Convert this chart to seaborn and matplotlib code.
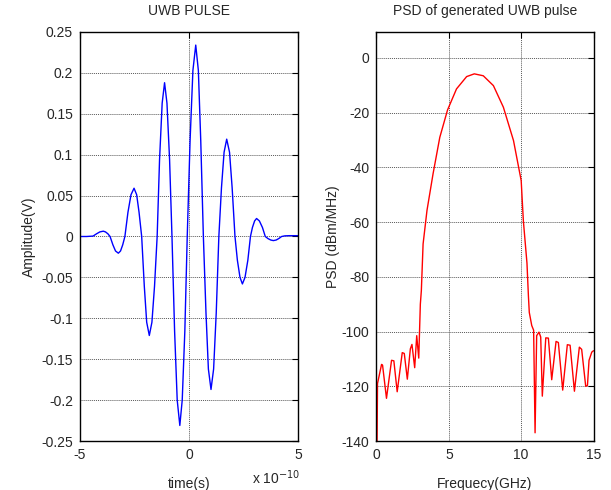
import numpy as np
import pandas as pd
import seaborn as sns
import matplotlib
matplotlib.use("Agg")
import matplotlib.pyplot as plt
from matplotlib.ticker import FuncFormatter

# =========================
# data
# =========================

# UWB pulse: time in units of 1e-10 s, amplitude in V
pulse_t = [-5.0, -4.7, -4.4, -4.24, -4.09, -3.93, -3.83, -3.72, -3.62,
           -3.49, -3.37, -3.24, -3.14, -3.04, -2.94,
           -2.80, -2.66, -2.52, -2.40, -2.29, -2.17,
           -2.05, -1.94, -1.82, -1.70, -1.58, -1.46,
           -1.35, -1.23, -1.12, -1.01, -0.89, -0.78,
           -0.66, -0.54, -0.42, -0.31, -0.19, -0.08,
           0.05, 0.18, 0.31, 0.43, 0.54, 0.66,
           0.78, 0.89, 1.01, 1.13, 1.25, 1.37,
           1.49, 1.61, 1.73, 1.86, 1.98, 2.11,
           2.22, 2.34, 2.45, 2.57, 2.70, 2.82,
           2.91, 3.01, 3.10, 3.23, 3.37, 3.50,
           3.62, 3.75, 3.87, 4.00, 4.12, 4.25,
           4.40, 4.60, 5.0]
pulse_v = [0.0, 0.0, 0.0005, 0.0033, 0.0056, 0.0065, 0.0056, 0.0033, 0.0,
           -0.0102, -0.0177, -0.0204, -0.0177, -0.0102, 0.0,
           0.0295, 0.0511, 0.059, 0.0511, 0.0295, 0.0,
           -0.0605, -0.1048, -0.121, -0.1048, -0.0605, 0.0,
           0.094, 0.163, 0.188, 0.163, 0.094, 0.0,
           -0.1155, -0.200, -0.231, -0.200, -0.1155, 0.0,
           0.117, 0.203, 0.234, 0.203, 0.117, 0.0,
           -0.0935, -0.162, -0.187, -0.162, -0.0935, 0.0,
           0.0595, 0.103, 0.119, 0.103, 0.0595, 0.0,
           -0.029, -0.050, -0.058, -0.050, -0.029, 0.0,
           0.011, 0.019, 0.022, 0.019, 0.011, 0.0,
           -0.0025, -0.0043, -0.005, -0.0043, -0.0025, 0.0,
           0.0008, 0.001, 0.001]

# PSD: frequency in GHz, level in dBm/MHz
psd_f = [0.04, 0.07, 0.35, 0.42, 0.69, 1.04, 1.20, 1.43, 1.78, 1.92, 2.13,
         2.34, 2.45, 2.64, 2.78, 2.92, 2.99, 3.03, 3.10, 3.22, 3.49, 3.91,
         4.375, 4.91, 5.53, 6.23, 6.76, 7.38, 8.08, 8.77, 9.47, 10.0, 10.15,
         10.4, 10.5, 10.56, 10.73, 10.86, 10.96, 11.07, 11.23, 11.35, 11.46,
         11.70, 11.88, 12.11, 12.41, 12.57, 12.87, 13.19, 13.38, 13.68, 14.02,
         14.18, 14.46, 14.58, 14.69, 14.88, 15.0]
psd_db = [-140, -119, -112, -112.3, -124.4, -110.5, -110.7, -122, -107.7, -108, -117.4,
          -106.3, -104.7, -113.2, -101.5, -109.7, -97.2, -90, -85, -68, -55.7, -42.3,
          -29, -19, -11.3, -6.8, -5.8, -6.5, -10.1, -18, -30.2, -44.8, -59.5,
          -75, -87, -93, -97.8, -99.5, -137, -101.5, -100.2, -102, -123.6,
          -102.3, -102.4, -117.6, -103.6, -104, -121.4, -104.8, -105, -121.8, -105.7,
          -106.5, -120, -119.7, -110.5, -107.5, -107]

df_pulse = pd.DataFrame({"t": np.array(pulse_t) * 1e-10, "v": pulse_v})
df_psd = pd.DataFrame({"f": psd_f, "p": psd_db})

# =========================
# figure
# =========================

sns.set_style("white")
plt.rcParams["font.family"] = ["Liberation Sans", "DejaVu Sans"]
plt.rcParams["axes.unicode_minus"] = False

fig = plt.figure(figsize=(6.11, 4.90), dpi=100)
ax1 = fig.add_axes([0.1309, 0.1, 0.3568, 0.8347])
ax2 = fig.add_axes([0.6162, 0.1, 0.3552, 0.8347])

sns.lineplot(data=df_pulse, x="t", y="v", ax=ax1, color="#0000ff",
             linewidth=1, estimator=None)
sns.lineplot(data=df_psd, x="f", y="p", ax=ax2, color="#ff0000",
             linewidth=1, estimator=None)

ax1.set(xlim=(-5e-10, 5e-10), ylim=(-0.25, 0.25))
ax1.set_xticks([-5e-10, 0, 5e-10])
ax1.set_yticks(np.arange(-0.25, 0.2501, 0.05))
ax1.xaxis.set_major_formatter(FuncFormatter(lambda v, p: f"{v * 1e10 + 0.0:g}"))
ax1.yaxis.set_major_formatter(FuncFormatter(lambda v, p: f"{round(v, 2) + 0.0:g}"))
ax1.set_xlabel("time(s)", fontsize=10, labelpad=11)
ax1.set_ylabel("Amplitude(V)", fontsize=10, labelpad=4)
ax1.set_title("UWB PULSE", fontsize=10, pad=12)

ax2.set(xlim=(0, 15), ylim=(-140, 9.5))
ax2.set_xticks([0, 5, 10, 15])
ax2.set_yticks(np.arange(-140, 1, 20))
ax2.set_xlabel("Frequecy(GHz)", fontsize=10, labelpad=11)
ax2.set_ylabel("PSD (dBm/MHz)", fontsize=10, labelpad=1)
ax2.set_title("PSD of generated UWB pulse", fontsize=10, pad=12)

for ax in (ax1, ax2):
    ax.grid(True, color="0.35", linestyle=(0, (1, 1)), linewidth=0.7)
    ax.tick_params(direction="in", length=4, width=0.8, top=True, right=True,
                   labelsize=10, pad=5, color="black")
    for s in ax.spines.values():
        s.set_color("black")
        s.set_linewidth(1)

fig.text(0.412, 0.006, "x 10$^{-10}$", fontsize=10, ha="left", va="bottom")

fig.savefig("out.png", dpi=100)
plt.close(fig)
